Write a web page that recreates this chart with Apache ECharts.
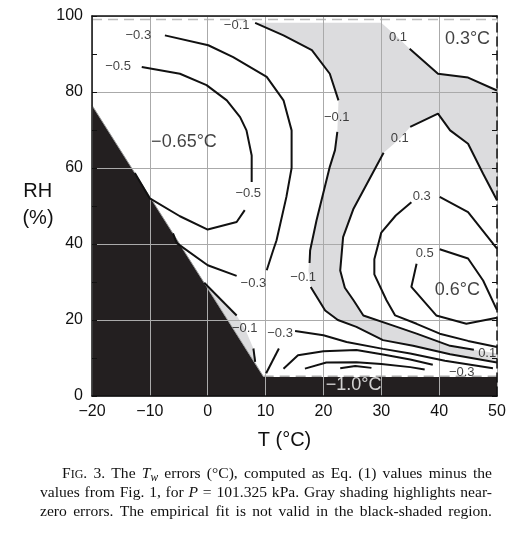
<!DOCTYPE html>
<html><head><meta charset="utf-8">
<script src="https://cdn.jsdelivr.net/npm/echarts@6/dist/echarts.min.js"></script>
<style>html,body{margin:0;padding:0;background:#fff}#c{width:512px;height:538px}</style>
</head><body><div id="c"></div>
<script>
// ---------------- data ----------------
const xTickMin = -20, xTickMax = 50, xTickStep = 10;
const yTickMin = 0, yTickMax = 100, yTickStep = 20;

// region where the fit is invalid (black)
const blackRegion = [[-20,0],[-20,76.5],[9.67,5],[50,5],[50,0]];
const blackEdge = [[-20,76.5],[9.67,5]];
const bandTopDashed = [[9.67,5.2],[50,5.2]];
const topDashed = [[-20,99.1],[50,99.1]];

// near-zero (gray) regions
const grayBand = [
  [8.2,98.2],[13.1,94.9],[18,91],[21.1,84.8],[22.6,77.8],[22.5,73.4],[22.4,69.5],[22,64.7],[21.1,60.3],
  [18.8,46.2],[17.7,38.3],[17.4,33],[17.8,28.7],[20.3,22.5],[22.5,20],[25.7,18.2],[30.3,14.7],[35.5,13.2],
  [41.9,11],[50,8.8],
  [50,11.2],[48,11.7],[46,12.2],[41.9,13.2],[36.1,16.4],[32.7,18.2],[26.9,21.2],[25.2,25.2],[23.7,28.5],
  [22.9,33],[23.4,41.8],[25.2,49.3],[30.4,64],[33.2,67.7],[35,70.8],[39.8,74.3],[41.9,69.9],[45,66.4],
  [47.6,58.5],[50,51.5],
  [50,80.4],[45,83.8],[39.8,84.8],[34.9,91.4],[32.9,94.3],[30,98.2]
];
const graySliver = [[-0.6,29.8],[5,21.2],[6.5,17.5],[7.9,12.5],[8.2,9],[9.3,5.9]];

// contour segments (level, points)
const cM05a = [[-12.6,58.7],[-10,52],[-4.8,47.3],[0,43.8],[5,45.8],[6.4,48.9]];
const cM05b = [[7.6,56.3],[7.6,63.3],[6.7,69.9],[5.6,73.4],[3.3,77.8],[-0.2,81.8],[-4.8,84.8],[-11.4,86.6]];
const cM03a = [[-6,42.8],[-5.4,40.3],[0,34.4],[5,31.6]];
const cM03b = [[10.2,33.1],[11.3,38.3],[11.9,41],[13.6,52.4],[14.5,60],[14.5,69.9],[13.1,77.8],[10.2,84],[4.4,89.2],[0.1,92.3],[-7.4,94.9]];
const cM01a = [[8.2,98.2],[13.1,94.9],[18,91],[21.1,84.8],[22.6,77.8]];
const cM01b = [[22.4,69.5],[22,64.7],[21.1,60.3],[18.8,46.2],[17.7,38.3],[17.6,35]];
const cM01c = [[17.8,28.7],[20.3,22.5],[22.5,20],[25.7,18.2],[30.3,14.7],[35.5,13.2],[41.9,11],[50,8.8]];
const cM01d = [[-0.6,29.8],[5,21.2]];
const cM01e = [[7.9,12.5],[8.2,9]];
const cP01a = [[34.9,91.4],[39.8,84.8],[45,83.8],[50,80.4]];
const cP01b = [[50,51.5],[47.6,58.5],[45,66.4],[41.9,69.9],[39.8,74.3],[35,70.8]];
const cP01c = [[30.4,64],[25.2,49.3],[23.4,41.8],[22.9,33],[23.7,28.5],[25.2,25.2],[26.9,21.2],[32.7,18.2],[36.1,16.4],[41.9,13.2],[46,12.2]];
const cP03a = [[50,38.8],[45,48.4],[40.1,52.4]];
const cP03b = [[35.2,51],[32.5,47.5],[30,43],[28.8,36],[28.8,32],[30.9,25.2],[32.4,21.2],[36.1,19],[40.1,16.4],[45,14.5],[50,12.9]];
const cP05a = [[40.1,38.6],[45,36.2],[47.6,30.4],[50,22.6]];
const cP05b = [[36.1,34.8],[35.2,28.7],[39.5,21.2],[44.7,19],[50,20.6]];
const cM03c = [[10.1,6],[12.3,12.5]];
const cM03d = [[15.1,17.1],[20,16],[24,14.2],[30.3,12.4],[35,11.2],[41,9.3],[49.3,7.3]];
const cM05c = [[13.1,7.2],[15.6,10.7],[20,11.8],[25.7,12.1],[30.3,10.9],[35,9.6],[38.9,8.2]];
const cM07 = [[16.8,7.2],[20.5,8.8],[25.7,8.9],[30,8.4],[35,7.6],[37.5,7]];
const cM09 = [[22.9,7.3],[25.5,7.9],[28.3,7.4]];
const contourSegments = [cM05a,cM05b,cM03a,cM03b,cM01a,cM01b,cM01c,cM01d,cM01e,cP01a,cP01b,cP01c,
  cP03a,cP03b,cP05a,cP05b,cM03c,cM03d,cM05c,cM07,cM09];

// contour labels [text, T, RH]
const contourLabels = [
  ['−0.3',-12.0,94.9],['−0.5',-15.5,86.6],['−0.1',5.0,97.6],['0.1',32.9,94.3],
  ['−0.1',22.3,73.4],['0.1',33.2,67.7],['−0.5',7.0,53.3],['0.3',37.0,52.4],
  ['0.5',37.5,37.5],['−0.3',7.9,29.6],['−0.1',16.5,31.3],['−0.1',6.4,17.7],
  ['−0.3',12.5,16.4],['0.1',48.3,11.2],['−0.3',43.9,6.2]
];
const regionLabels = [['−0.65°C',-4.1,66.8],['0.3°C',44.9,94.0],['0.6°C',43.15,27.8]];
const bandLabel = [['−1.0°C',25.2,2.8]];

const captionText = [
  'F{sc:IG}. 3. The {i:T}{sub:w} errors (°C), computed as Eq. (1) values minus the',
  'values from Fig. 1, for {i:P} {b:=} 101.325 kPa. Gray shading highlights near-',
  'zero errors. The empirical fit is not valid in the black-shaded region.'
];

// ---------------- chart ----------------
const SANS = '"Liberation Sans", Arial, sans-serif';
const SERIF = '"Liberation Serif", "Times New Roman", serif';
const fmt = v => String(v).replace('-', '−');

const shades = [
  {pts: blackRegion, fill: '#231f20'},
  {pts: grayBand, fill: '#dcdcde'},
  {pts: graySliver, fill: '#dcdcde'}
];

// caption layout (justified)
const capLeft = [62, 40, 40], capRight = 492, capY = [474, 493, 512];
const ctx = document.createElement('canvas').getContext('2d');
const segFont = {n:`15.6px ${SERIF}`, i:`italic 15.6px ${SERIF}`, sc:`12px ${SERIF}`, sub:`italic 11.5px ${SERIF}`, b:`15.6px ${SERIF}`};
const segDy = {n:0, i:0, sc:1.2, sub:3.8, b:0};
function parseWord(w){
  const re = /\{(\w+):([^}]*)\}|([^{]+)/g; let m; const out = [];
  while ((m = re.exec(w))) { if (m[1]) out.push([m[1], m[2]]); else out.push(['n', m[3]]); }
  return out;
}
const graphics = [];
captionText.forEach((line, li) => {
  const words = line.split(' ').map(parseWord);
  const widths = words.map(ws => ws.reduce((a, [k, t]) => { ctx.font = segFont[k]; return a + ctx.measureText(t).width; }, 0));
  const total = widths.reduce((a, b) => a + b, 0);
  const gap = (capRight - capLeft[li] - total) / (words.length - 1);
  let x = capLeft[li];
  words.forEach(ws => {
    ws.forEach(([k, t]) => {
      ctx.font = segFont[k];
      graphics.push({type:'text', x: x, y: capY[li] + segDy[k], silent:true,
        style:{text:t, font:segFont[k], fill:'#111', align:'left', verticalAlign:'middle'}});
      x += ctx.measureText(t).width;
    });
    x += gap;
  });
});
graphics.push({type:'text', x:37.7, y:191, style:{text:'RH', font:`20px ${SANS}`, fill:'#111', align:'center', verticalAlign:'middle'}});
graphics.push({type:'text', x:38, y:218, style:{text:'(%)', font:`20px ${SANS}`, fill:'#111', align:'center', verticalAlign:'middle'}});
graphics.push({type:'text', x:284.5, y:440, style:{text:'T (°C)', font:`20px ${SANS}`, fill:'#111', align:'center', verticalAlign:'middle'}});

const lineStyleC = {color:'#111111', width:2};
const series = [];
series.push({
  type:'custom', z:1, silent:true, clip:true,
  data: shades.map((s, i) => [i]),
  encode:{x:0},
  renderItem: (params, api) => {
    const s = shades[params.dataIndex];
    return {type:'polygon', shape:{points: s.pts.map(p => api.coord(p))}, style:{fill: s.fill}};
  }
});
series.push({type:'line', z:2, silent:true, data: blackEdge, symbol:'none', lineStyle:{color:'#9a9a9a', width:1}});
series.push({type:'line', z:2, silent:true, data: bandTopDashed, symbol:'none', lineStyle:{color:'#aaaaaa', width:1.5, type:[10,6]}});
series.push({type:'line', z:2, silent:true, data: topDashed, symbol:'none', lineStyle:{color:'#bbbbbb', width:1.5, type:[10,6]}});
contourSegments.forEach(seg => series.push({type:'line', z:4, silent:true, data: seg, symbol:'none', lineStyle: lineStyleC}));
function labelSeries(arr, size, color){
  return {type:'scatter', z:6, silent:true, symbolSize:1, itemStyle:{color:'rgba(0,0,0,0)'},
    data: arr.map(([t, x, y]) => ({value:[x, y], label:{show:true, formatter:t, position:'inside',
      fontSize:size, color:color, fontFamily:SANS, align:'center', verticalAlign:'middle'}}))};
}
series.push(labelSeries(contourLabels, 13, '#111'));
series.push(labelSeries(regionLabels, 18, '#111'));
series.push(labelSeries(bandLabel, 18, '#ffffff'));

const chart = echarts.init(document.getElementById('c'), null, {renderer:'canvas'});
chart.setOption({
  animation:false,
  backgroundColor:'#fff',
  grid:{left:92, right:15, top:16, bottom:142},
  xAxis:[
    {type:'value', min:xTickMin, max:xTickMax, interval:xTickStep, z:3,
      axisLine:{show:true, onZero:false, lineStyle:{color:'#111', width:1.5}},
      axisTick:{show:false},
      axisLabel:{fontSize:16, color:'#111', margin:8, fontFamily:SANS, formatter:fmt},
      splitLine:{show:true, lineStyle:{color:'#aaaaaa', width:1}}},
    {type:'value', position:'top', min:xTickMin, max:xTickMax, interval:xTickStep, z:3,
      axisLine:{show:true, onZero:false, lineStyle:{color:'#111', width:1.5}},
      axisTick:{show:false}, axisLabel:{show:false}, splitLine:{show:false}}
  ],
  yAxis:[
    {type:'value', min:yTickMin, max:yTickMax, interval:yTickStep, z:3,
      axisLine:{show:true, onZero:false, lineStyle:{color:'#111', width:1.5}},
      axisTick:{show:true, inside:true, length:5, lineStyle:{color:'#111', width:1}},
      minorTick:{show:true, splitNumber:2, length:5, lineStyle:{color:'#111', width:1}},
      axisLabel:{fontSize:16, color:'#111', margin:9, fontFamily:SANS, formatter:fmt},
      splitLine:{show:true, lineStyle:{color:'#aaaaaa', width:1}}},
    {type:'value', position:'right', min:yTickMin, max:yTickMax, interval:10, z:3,
      axisLine:{show:true, onZero:false, lineStyle:{color:'#111', width:1.5, type:[9,5]}},
      axisTick:{show:true, inside:true, length:5, lineStyle:{color:'#111', width:1}},
      axisLabel:{show:false}, splitLine:{show:false}}
  ],
  graphic: graphics,
  series: series
});
</script>
</body></html>
